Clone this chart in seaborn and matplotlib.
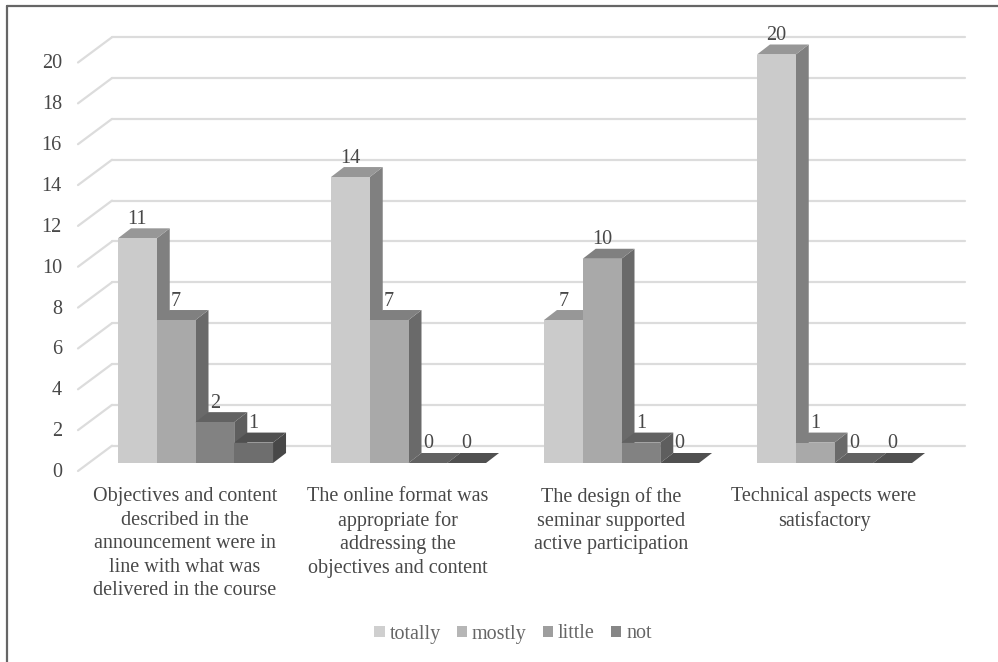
import matplotlib
matplotlib.use("Agg")
import matplotlib.pyplot as plt
from matplotlib.patches import Polygon, Patch
from matplotlib.lines import Line2D
from matplotlib.transforms import ScaledTranslation
import pandas as pd
import seaborn as sns

categories = [
    "Objectives and content\ndescribed in the\nannouncement were in\nline with what was\ndelivered in the course",
    "The online format was\nappropriate for\naddressing the\nobjectives and content",
    "The design of the\nseminar supported\nactive participation",
    "Technical aspects were\nsatisfactory",
]
levels = ["totally", "mostly", "little", "not"]
totally = [11, 14, 7, 20]
mostly = [7, 7, 10, 1]
little = [2, 0, 1, 0]
not_at_all = [1, 0, 0, 0]
y_ticks = list(range(0, 21, 2))

front_colors = ["#cbcbcb", "#a9a9a9", "#828282", "#6e6e6e"]
side_colors = ["#808080", "#6a6a6a", "#5e5e5e", "#484848"]
top_colors = ["#979797", "#808080", "#626262", "#505050"]
legend_colors = ["#cfcfcf", "#b6b6b6", "#9e9e9e", "#868686"]
text_color = "#484848"
grid_color = "#dcdcdc"

W, H, DPI = 998, 662, 100
sns.set_style("white")
plt.rcParams["font.family"] = ["Liberation Serif", "DejaVu Serif"]

fig = plt.figure(figsize=(W / DPI, H / DPI), dpi=DPI)
# plot plane runs through the front faces of the columns
left, right, top, bottom = 89, 941, 54.5, 463
ax = fig.add_axes([left / W, 1 - bottom / H, (right - left) / W, (bottom - top) / H])

rows = [
    {"question": c, "level": lev, "count": v}
    for lev, vals in zip(levels, [totally, mostly, little, not_at_all])
    for c, v in zip(categories, vals)
]
df = pd.DataFrame(rows)
sns.barplot(
    data=df, x="question", y="count", hue="level", hue_order=levels,
    order=categories, palette=front_colors, width=0.728, gap=0,
    legend=False, ax=ax, zorder=3, saturation=1,
)
ax.set_xlim(-0.5, 3.5)
ax.set_ylim(0, 20)
ax.set_xlabel("")
ax.set_ylabel("")
sns.despine(ax=ax, left=True, bottom=True)

# pixel lengths expressed in data units for the oblique projection
px_x = 4 / (right - left)
px_y = 20 / (bottom - top)

# back wall gridlines and left wall diagonals
for t in y_ticks:
    back_y = t + 17.3 * px_y
    ax.plot([-0.5 + 23 * px_x, -0.5 + 876 * px_x], [back_y, back_y],
            color=grid_color, lw=1.6, clip_on=False, zorder=1)
    ax.plot([-0.5 - 11 * px_x, -0.5 + 23 * px_x], [t - 8 * px_y, back_y],
            color=grid_color, lw=1.6, clip_on=False, zorder=1)

# extrude each column with a side face and a top face
dx, dy = 13 * px_x, 10 * px_y
for i, container in enumerate(ax.containers):
    # later columns stay in front of the side faces of earlier ones
    z = 3 + i * 0.1
    for bar, value in zip(container, [totally, mostly, little, not_at_all][i]):
        x0 = bar.get_x()
        x1 = x0 + bar.get_width()
        h = bar.get_height()
        bar.set_zorder(z + 0.05)
        bar.set_edgecolor("none")
        ax.add_patch(Polygon([(x1, 0), (x1 + dx, dy), (x1 + dx, h + dy), (x1, h)],
                             closed=True, fc=side_colors[i], ec="none",
                             zorder=z, clip_on=False))
        ax.add_patch(Polygon([(x0, h), (x0 + dx, h + dy), (x1 + dx, h + dy), (x1, h)],
                             closed=True, fc=top_colors[i], ec="none",
                             zorder=z + 0.02, clip_on=False))
        ax.annotate(f"{value}", xy=((x0 + x1) / 2, h), xytext=(0, 19 * 72 / DPI),
                    textcoords="offset points", ha="center", va="center",
                    fontsize=14.5, color=text_color, zorder=6, annotation_clip=False)

# axis labels sit on the front edge of the floor
ax.set_yticks(y_ticks)
ax.set_xticks(range(4))
ax.set_xticklabels(categories, linespacing=1.32)
ax.tick_params(axis="both", length=0, labelsize=14.5, labelcolor=text_color)
ax.tick_params(axis="y", pad=19.5)
ax.tick_params(axis="x", pad=17.5)
for lab in ax.get_yticklabels():
    lab.set_transform(lab.get_transform() + ScaledTranslation(0, -7 / DPI, fig.dpi_scale_trans))
for lab in ax.get_xticklabels():
    lab.set_transform(lab.get_transform() + ScaledTranslation(-10.5 / DPI, 0, fig.dpi_scale_trans))

handles = [Patch(fc=c, ec="none", label=l) for c, l in zip(legend_colors, levels)]
fig.legend(handles=handles, loc="center", bbox_to_anchor=(513 / W, 1 - 634 / H),
           ncol=4, frameon=False, fontsize=14.5, labelcolor="#666666",
           handlelength=0.5, handleheight=0.5, handletextpad=0.25,
           columnspacing=0.8, borderpad=0)

# outer frame: top and left rules only
frame_x, frame_y = 7 / W, 1 - 5.5 / H
for xs, ys in [((frame_x, frame_x), (0, frame_y)), ((frame_x, 1), (frame_y, frame_y))]:
    fig.add_artist(Line2D(xs, ys, color="#666666", lw=1.6, transform=fig.transFigure))
fig.savefig("out.png", dpi=DPI)
